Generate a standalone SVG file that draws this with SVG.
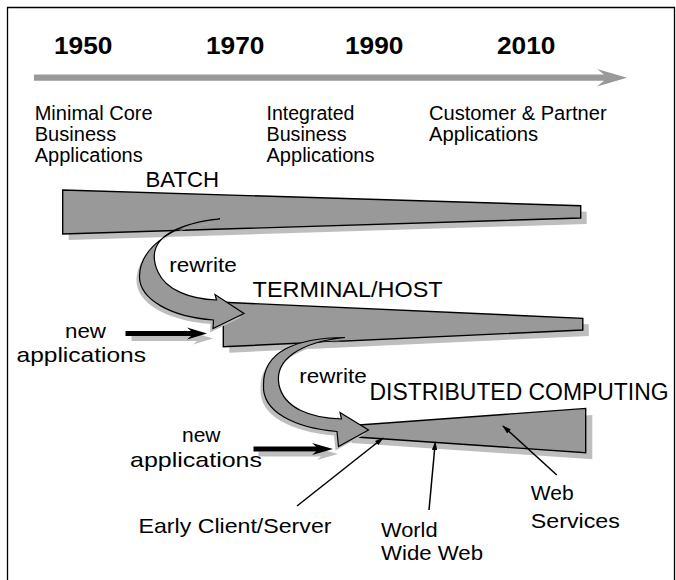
<svg xmlns="http://www.w3.org/2000/svg" width="676" height="580" viewBox="0 0 676 580">
  <style>
    text { font-family: "Liberation Sans", Arial, Helvetica, sans-serif; fill: #000; }
    .year { font-weight: bold; font-size: 24.5px; }
    .desc { font-size: 20px; }
    .era { font-size: 21.5px; }
    .lbl { font-size: 21px; }
    .wedge { fill: #999999; stroke: #000; stroke-width: 1.4; stroke-linejoin: miter; }
    .shadow { fill: #bebebe; stroke: none; }
    .bend { fill: #999999; stroke: #000; stroke-width: 1.2; stroke-linejoin: miter; }
    .feed { fill: #000; }
    .pointer { fill: none; stroke: #000; stroke-width: 1.5; marker-end: url(#tip); }
  </style>
  <defs>
    <marker id="tip" viewBox="0 0 10 6" refX="9" refY="3" markerWidth="9" markerHeight="6" markerUnits="userSpaceOnUse" orient="auto">
      <path d="M0,0 L10,3 L0,6 Z" fill="#000"/>
    </marker>
  </defs>

  <!-- frame -->
  <path d="M7.5,590 V7.5 H674.5 V590" fill="none" stroke="#000" stroke-width="1.3"/>

  <!-- time axis -->
  <g id="timeline">
    <path d="M34,74.5 L604,74.5 L597,69 L627,77.7 L597,86.5 L604,80.8 L34,80.8 Z" fill="#999999"/>
    <text class="year" x="54" y="53.5" textLength="58.5" lengthAdjust="spacingAndGlyphs">1950</text>
    <text class="year" x="206" y="53.5" textLength="58.5" lengthAdjust="spacingAndGlyphs">1970</text>
    <text class="year" x="345" y="53.5" textLength="58.5" lengthAdjust="spacingAndGlyphs">1990</text>
    <text class="year" x="497" y="53.5" textLength="58.5" lengthAdjust="spacingAndGlyphs">2010</text>
  </g>

  <!-- application generations -->
  <g id="gen-core">
    <text class="desc" x="34.7" y="120" textLength="118" lengthAdjust="spacingAndGlyphs">Minimal Core</text>
    <text class="desc" x="34.7" y="141" textLength="81.5" lengthAdjust="spacingAndGlyphs">Business</text>
    <text class="desc" x="34.7" y="162" textLength="108" lengthAdjust="spacingAndGlyphs">Applications</text>
  </g>
  <g id="gen-integrated">
    <text class="desc" x="266.5" y="120" textLength="88" lengthAdjust="spacingAndGlyphs">Integrated</text>
    <text class="desc" x="266.5" y="141" textLength="80" lengthAdjust="spacingAndGlyphs">Business</text>
    <text class="desc" x="266.5" y="162" textLength="108" lengthAdjust="spacingAndGlyphs">Applications</text>
  </g>
  <g id="gen-partner">
    <text class="desc" x="429" y="120" textLength="177.6" lengthAdjust="spacingAndGlyphs">Customer &amp; Partner</text>
    <text class="desc" x="429" y="141" textLength="109" lengthAdjust="spacingAndGlyphs">Applications</text>
  </g>

  <!-- computing eras -->
  <g id="batch">
    <polygon class="shadow" points="68.7,196 586.7,211.7 586.7,224 68.7,240"/>
    <polygon class="wedge" points="62.7,190 580.7,205.7 580.7,218 62.7,234"/>
    <text class="era" x="145.5" y="186.7" textLength="73.5" lengthAdjust="spacingAndGlyphs">BATCH</text>
  </g>
  <g id="terminal-host">
    <polygon class="shadow" points="229.3,308.3 588.8,324.3 588.8,336 229.3,352.7"/>
    <polygon class="wedge" points="223.3,302.3 582.8,318.3 582.8,330 223.3,346.7"/>
    <text class="era" x="252.6" y="296.7" textLength="190" lengthAdjust="spacingAndGlyphs">TERMINAL/HOST</text>
  </g>
  <g id="distributed">
    <polygon class="shadow" points="351.6,432.6 592.3,415 592.3,459.3 351.6,442.9"/>
    <polygon class="wedge" points="345,426 585.7,408.4 585.7,452.7 345,436.3"/>
    <text class="era" x="369.5" y="400" style="font-size:23px" textLength="299" lengthAdjust="spacingAndGlyphs">DISTRIBUTED COMPUTING</text>
  </g>

  <!-- migrations and inflows -->
  <g id="connectors">
    <g id="rewrite-1">
      <path class="shadow" transform="translate(-3,4)" d="M220,219 C180,221 140,245 139.5,276 C139,300 172,317 213.5,320 L213,328.5 L244,313.5 L215,294.5 L216.5,300 C190,299 166,290 158,272 C148,250 155,226 220,219 Z"/>
      <path class="bend" d="M220,219 C180,221 140,245 139.5,276 C139,300 172,317 213.5,320 L213,328.5 L244,313.5 L215,294.5 L216.5,300 C190,299 166,290 158,272 C148,250 155,226 220,219 Z"/>
      <text class="lbl" x="169.3" y="271.7" style="font-size:20px" textLength="67.5" lengthAdjust="spacingAndGlyphs">rewrite</text>
    </g>
    <g id="rewrite-2">
      <path class="shadow" transform="translate(-3,4)" d="M345,337.5 C295,338 263,352 263.5,385 C262,412 295,428 337,431.5 L338.5,446.5 L368.5,430 L340,412.5 L341.5,419 C310,418 284,408 279,385 C274,360 300,342 345,337.5 Z"/>
      <path class="bend" d="M345,337.5 C295,338 263,352 263.5,385 C262,412 295,428 337,431.5 L338.5,446.5 L368.5,430 L340,412.5 L341.5,419 C310,418 284,408 279,385 C274,360 300,342 345,337.5 Z"/>
      <text class="lbl" x="299.3" y="383.3" style="font-size:20px" textLength="67.4" lengthAdjust="spacingAndGlyphs">rewrite</text>
    </g>
    <g id="new-apps-1">
      <path class="shadow" transform="translate(6,5)" d="M125.5,331 L191,331 L187,327.5 L207,333.5 L187,339.5 L191,336 L125.5,336 Z"/>
      <path class="feed" d="M125.5,331 L191,331 L187,327.5 L207,333.5 L187,339.5 L191,336 L125.5,336 Z"/>
      <text class="lbl" x="65" y="337.5" textLength="41" lengthAdjust="spacingAndGlyphs">new</text>
      <text class="lbl" x="16.5" y="362" textLength="129.5" lengthAdjust="spacingAndGlyphs">applications</text>
    </g>
    <g id="new-apps-2">
      <path class="shadow" transform="translate(5,5)" d="M253.5,446.5 L316,446.5 L312,443 L333,449 L312,455 L316,451.5 L253.5,451.5 Z"/>
      <path class="feed" d="M253.5,446.5 L316,446.5 L312,443 L333,449 L312,455 L316,451.5 L253.5,451.5 Z"/>
      <text class="lbl" x="182" y="441.7">new</text>
      <text class="lbl" x="130" y="466.7" textLength="132" lengthAdjust="spacingAndGlyphs">applications</text>
    </g>
    <line class="pointer" x1="297" y1="506" x2="383" y2="438"/>
    <line class="pointer" x1="429" y1="510" x2="435.3" y2="442"/>
    <line class="pointer" x1="556.8" y1="475" x2="503" y2="426"/>
  </g>

  <!-- milestones within distributed computing -->
  <g id="client-server">
    <text class="lbl" x="138.5" y="533.3" textLength="193" lengthAdjust="spacingAndGlyphs">Early Client/Server</text>
  </g>
  <g id="www">
    <text class="lbl" x="381" y="536.7" textLength="56.6" lengthAdjust="spacingAndGlyphs">World</text>
    <text class="lbl" x="381" y="560" textLength="102" lengthAdjust="spacingAndGlyphs">Wide Web</text>
  </g>
  <g id="web-services">
    <text class="lbl" x="530.8" y="500">Web</text>
    <text class="lbl" x="530.8" y="527.5" textLength="89" lengthAdjust="spacingAndGlyphs">Services</text>
  </g>
</svg>
